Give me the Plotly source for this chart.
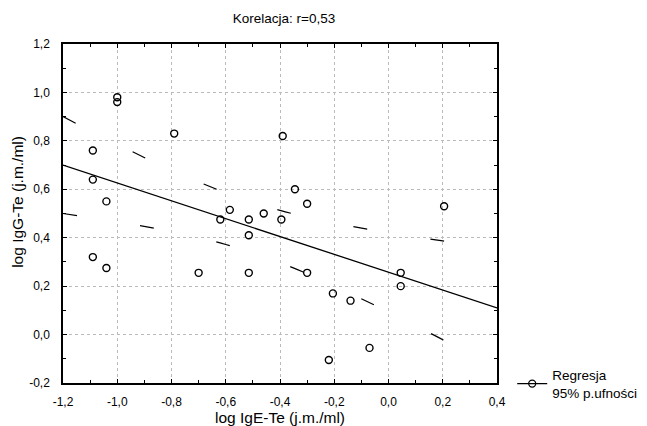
import plotly.graph_objects as go

# Scatter data (log IgE-Te, log IgG-Te)
x_pts = [-1.0, -1.0, -0.79, -1.09, -1.09, -0.39, -0.345, -1.04, -1.09, -1.04,
         -0.70, -0.515, -0.585, -0.62, -0.515, -0.515, -0.46, -0.395, -0.30, -0.30,
         -0.205, -0.14, -0.07, -0.22, 0.045, 0.045, 0.205]
y_pts = [0.98, 0.96, 0.83, 0.76, 0.64, 0.82, 0.60, 0.55, 0.32, 0.275,
         0.255, 0.255, 0.515, 0.475, 0.475, 0.41, 0.50, 0.475, 0.54, 0.255,
         0.17, 0.14, -0.055, -0.105, 0.255, 0.20, 0.53]

# Regression line and 95% confidence band
band_x = [-1.2, -1.0, -0.8, -0.6, -0.4, -0.2, 0.0, 0.2, 0.4]
reg_y = [0.700, 0.626, 0.552, 0.479, 0.405, 0.331, 0.257, 0.183, 0.110]
upper_y = [0.900, 0.786, 0.679, 0.586, 0.513, 0.461, 0.421, 0.387, 0.358]
lower_y = [0.500, 0.466, 0.425, 0.372, 0.297, 0.201, 0.093, -0.021, -0.138]

x_ticks = [-1.2, -1.0, -0.8, -0.6, -0.4, -0.2, 0.0, 0.2, 0.4]
x_ticktext = ["-1,2", "-1,0", "-0,8", "-0,6", "-0,4", "-0,2", "0,0", "0,2", "0,4"]
y_ticks = [-0.2, 0.0, 0.2, 0.4, 0.6, 0.8, 1.0, 1.2]
y_ticktext = ["-0,2", "0,0", "0,2", "0,4", "0,6", "0,8", "1,0", "1,2"]

FONT = "Liberation Sans, Arial, sans-serif"
NARROW = "Liberation Sans Narrow, Arial Narrow, Liberation Sans, sans-serif"

fig = go.Figure()
band_line = dict(color="black", width=1.2, dash="14px,64px", shape="spline")
fig.add_trace(go.Scatter(x=band_x, y=upper_y, mode="lines", line=band_line,
                         showlegend=False, hoverinfo="skip"))
fig.add_trace(go.Scatter(x=band_x, y=lower_y, mode="lines", line=band_line,
                         showlegend=False, hoverinfo="skip"))
fig.add_trace(go.Scatter(x=band_x, y=reg_y, mode="lines", line=dict(color="black", width=1.3),
                         showlegend=False))
fig.add_trace(go.Scatter(x=x_pts, y=y_pts, mode="markers",
                         marker=dict(symbol="circle-open", size=7, color="black", line=dict(width=1.4)),
                         showlegend=False))
fig.add_trace(go.Scatter(x=[None], y=[None], mode="lines+markers", name="Regresja<br>95% p.ufności",
                         line=dict(color="black", width=1.2),
                         marker=dict(symbol="circle-open", size=7, color="black", line=dict(width=1.3))))

axis_common = dict(
    showline=True, linecolor="black", linewidth=1.5, mirror="allticks",
    ticks="inside", ticklen=4, tickcolor="black", tickwidth=1,
    showgrid=True, gridcolor="#bbbbbb", griddash="dot", gridwidth=1,
    zeroline=False,
    tickfont=dict(family=NARROW, size=12, color="black"),
)

fig.update_xaxes(range=[-1.2, 0.4], tickvals=x_ticks, ticktext=x_ticktext,
                 minor=dict(dtick=0.1, ticks="inside", ticklen=3, tickcolor="black", showgrid=False),
                 title=dict(text="log IgE-Te (j.m./ml)", font=dict(family=FONT, size=15.5, color="black"), standoff=5),
                 ticklabelstandoff=7,
                 **axis_common)
fig.update_yaxes(range=[-0.2, 1.2], tickvals=y_ticks, ticktext=y_ticktext,
                 minor=dict(dtick=0.1, ticks="inside", ticklen=3, tickcolor="black", showgrid=False),
                 ticklabelstandoff=9,
                 **axis_common)

# page body has an 8px margin, so the figure is shifted: compensate
fig.update_layout(
    width=639, height=418,
    margin=dict(l=55, r=150, t=36, b=43, autoexpand=False),
    paper_bgcolor="white", plot_bgcolor="white",
    title=dict(text="Korelacja: r=0,53", x=0.432, xanchor="center", y=0.975, yanchor="middle",
               font=dict(family=FONT, size=13.5, color="black")),
    legend=dict(x=1.035, y=-0.003, xanchor="left", yanchor="middle", bgcolor="rgba(0,0,0,0)",
                font=dict(family=FONT, size=13.5, color="black"), itemwidth=30),
    showlegend=True,
    annotations=[dict(text="log IgG-Te (j.m./ml)", xref="paper", yref="paper",
                      x=-0.104, y=0.534, xanchor="center", yanchor="middle", textangle=-90,
                      showarrow=False, font=dict(family=FONT, size=15.5, color="black"))],
)

fig.write_html("out.html")
